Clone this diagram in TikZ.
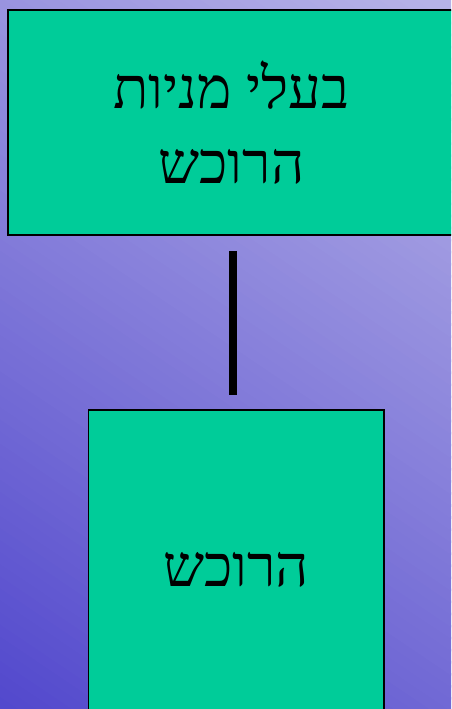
\documentclass[tikz,border=0pt]{standalone}
\usepackage{fontspec}
\newfontfamily\hebfont[Script=Hebrew]{Liberation Serif}
\TeXXeTstate=1
\definecolor{bgdark}{RGB}{80,70,204}
\definecolor{bglight}{RGB}{182,178,231}
\definecolor{boxgreen}{RGB}{0,204,153}
\newcommand{\heb}[1]{\beginR #1\endR}
\tikzset{
    box/.style={draw, fill=boxgreen, line width=1.5pt, rectangle, inner sep=0pt,
        font=\hebfont\fontsize{58}{75}\selectfont, align=center},
    link/.style={line width=8pt}
}
\begin{document}
\begin{tikzpicture}[x=1pt, y=1pt]
        \useasboundingbox (0,0) rectangle (451,709);
        \clip (0,0) rectangle (451,709);
        % background, dark at lower left, light at upper right
        \begin{scope}[rotate=-34]
            \foreach \i in {0,...,86} {
                \pgfmathsetmacro{\pct}{min(100,\i*100/84)}
                \fill[bglight!\pct!bgdark] (-440,\i*10-20) rectangle (420,\i*10-8);
            }
        \end{scope}

        \node[box, minimum width=447pt, minimum height=225pt] (holders-box) at (231.5,586.5) {\heb{בעלי מניות}\\\heb{הרוכש}};
        \node[box, minimum width=295.5pt, minimum height=319pt] (buyer-box) at (236.25,139.5) {\heb{הרוכש}};

        \coordinate (link-top) at (233,458);
        \coordinate (link-bottom) at (233,314);
        \draw[link] (link-top) -- (link-bottom);
\end{tikzpicture}
\end{document}
